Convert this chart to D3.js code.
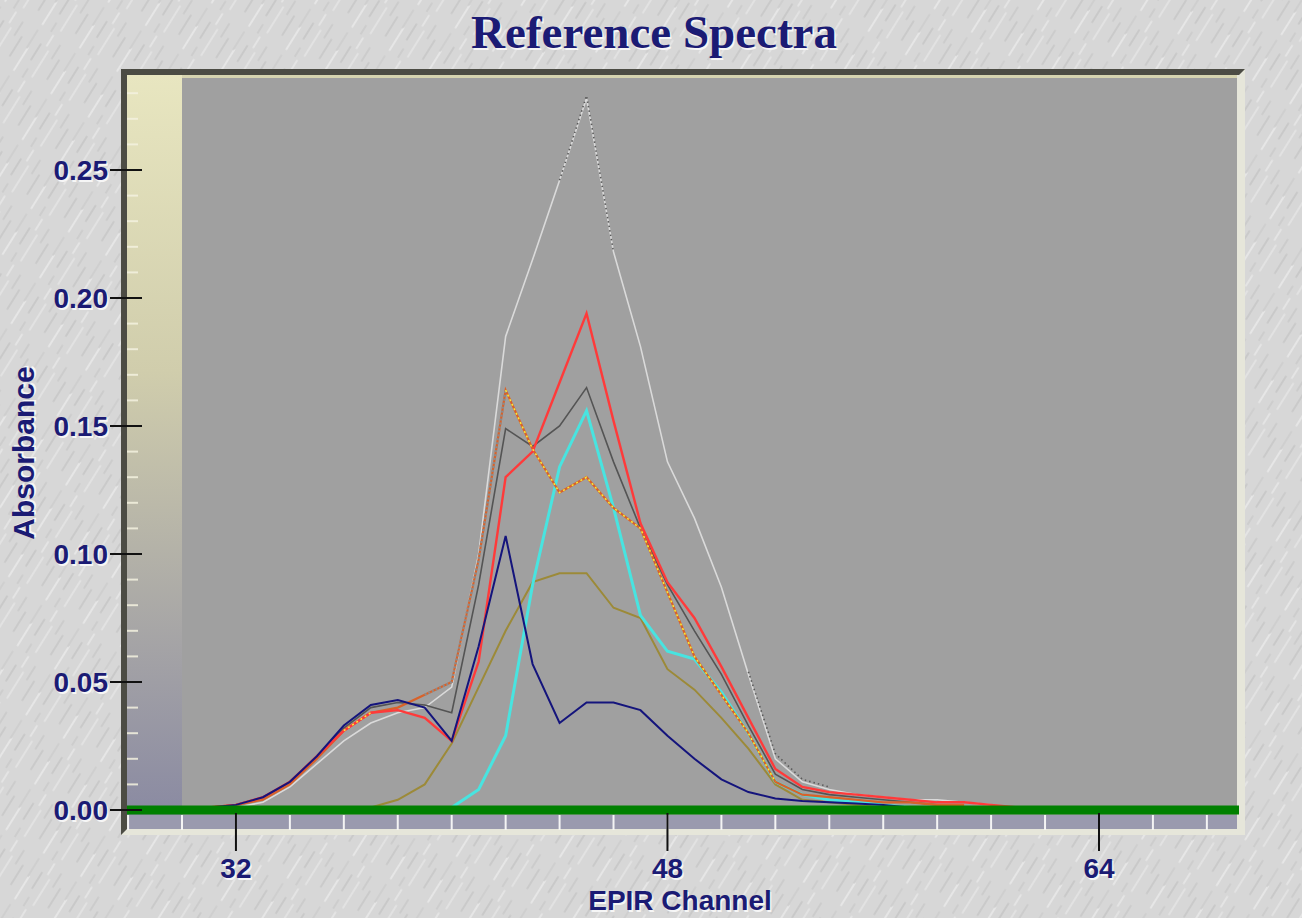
<!DOCTYPE html>
<html>
<head>
<meta charset="utf-8">
<script src="https://cdn.jsdelivr.net/npm/d3@7"></script>
<style>
  body { margin: 0; background: #d6d6d6; }
  svg { display: block; }
</style>
</head>
<body>
<svg id="chart" width="1302" height="918"></svg>
<script>
// channels on the x axis
const channels = [30, 31, 32, 33, 34, 35, 36, 37, 38, 39, 40, 41, 42, 43, 44, 45,
                  46, 47, 48, 49, 50, 51, 52, 53, 54, 55, 56, 57, 58, 59, 60, 61];

// absorbance per channel (null = not drawn)
const silver   = [0, 0, 0.001, 0.003, 0.009, 0.018, 0.027, 0.034, 0.038, 0.040, 0.048, 0.100, 0.185, 0.215, 0.246, 0.278,
                  0.218, 0.181, 0.136, 0.114, 0.087, 0.053, 0.020, 0.011, 0.008, 0.006, 0.005, 0.004, 0.004, 0.003, 0.002, null];
const red      = [null, 0.001, 0.002, 0.005, 0.011, 0.021, 0.031, 0.038, 0.039, 0.036, 0.027, 0.058, 0.130, 0.140, 0.167, 0.194,
                  0.152, 0.112, 0.089, 0.075, 0.056, 0.036, 0.016, 0.009, 0.007, 0.006, 0.005, 0.004, 0.003, 0.003, 0.002, 0.001];
const navy     = [null, 0.001, 0.002, 0.005, 0.011, 0.021, 0.033, 0.041, 0.043, 0.040, 0.027, 0.064, 0.107, 0.057, 0.034, 0.042,
                  0.042, 0.039, 0.029, 0.020, 0.012, 0.007, 0.0045, 0.0035, 0.003, 0.0025, 0.002, 0.001, null, null, null, null];
const darkGray = [null, 0.001, 0.002, 0.005, 0.011, 0.021, 0.032, 0.040, 0.042, 0.041, 0.038, 0.088, 0.149, 0.142, 0.150, 0.165,
                  0.136, 0.110, 0.088, 0.070, 0.053, 0.033, 0.014, 0.008, 0.006, 0.005, 0.004, 0.003, 0.002, null, null, null];
const cyan     = [null, null, null, null, null, null, null, null, null, null, 0.001, 0.008, 0.029, 0.088, 0.134, 0.156,
                  0.118, 0.076, 0.062, 0.059, 0.046, 0.030, 0.011, 0.006, 0.004, 0.003, 0.002, 0.001, null, null, null, null];
const olive    = [null, null, null, null, null, null, null, 0.001, 0.004, 0.010, 0.026, 0.048, 0.070, 0.089, 0.0925, 0.0925,
                  0.079, 0.075, 0.055, 0.047, 0.036, 0.024, 0.010, 0.004, 0.003, 0.002, 0.001, null, null, null, null, null];
const orange   = [null, 0.001, 0.002, 0.004, 0.010, 0.020, 0.031, 0.038, 0.040, 0.045, 0.050, 0.098, 0.164, 0.141, 0.124, 0.130,
                  0.118, 0.110, 0.085, 0.060, 0.045, 0.030, 0.011, 0.006, 0.005, 0.004, 0.003, 0.003, 0.002, 0.002, null, null];
// dotted overlays seen on parts of the spectra
const grayDots = [null, null, null, null, null, null, null, null, null, null, null, null, null, null, 0.246, 0.279,
                  0.218, null, null, null, null, 0.054, 0.022, 0.012, 0.009, null, null, null, null, null, null, null];
const yellowDots = [null, null, null, null, null, null, 0.031, 0.038, null, null, null, null, 0.164, 0.141, 0.124, 0.130,
                  0.118, 0.110, 0.085, 0.060, 0.045, 0.030, 0.011, null, null, null, null, null, null, null, null, null];
const mauveDots = [null, null, null, null, null, null, null, null, null, 0.045, 0.050, 0.098, 0.164, null, null, null,
                  null, null, null, null, null, null, null, null, null, null, null, null, null, null, null, null];

const yTicks = [0, 0.05, 0.10, 0.15, 0.20, 0.25];
const xTicks = [32, 48, 64];

const svg = d3.select("#chart");
const W = 1302, H = 918;
const navyText = "#1b1b74";

// frame geometry
const frameL = 121, frameT = 69, frameR = 1245, frameB = 835;
const plotL = 182, plotT = 78, plotR = 1237, plotB = 815;

const x = d3.scaleLinear().domain([30, 69]).range([plotL, plotL + 39 * 26.97]);
const y = d3.scaleLinear().domain([0, 0.25]).range([810, 170]);

// background texture
const defs = svg.append("defs");
const pat = defs.append("pattern")
    .attr("id", "stucco")
    .attr("width", 54).attr("height", 44)
    .attr("patternUnits", "userSpaceOnUse")
    .attr("patternTransform", "rotate(-58)");
pat.append("rect").attr("width", 54).attr("height", 44).attr("fill", "#d7d7d7");
[[2, 5, 26, "#e6e6e6"], [20, 14, 18, "#c9c9c9"], [6, 24, 30, "#e2e2e2"], [32, 31, 15, "#cccccc"],
 [28, 4, 20, "#cfcfcf"], [12, 38, 22, "#cacaca"], [40, 20, 12, "#e4e4e4"], [0, 16, 10, "#cdcdcd"]]
  .forEach(([sx, sy, len, c]) => {
    pat.append("line").attr("x1", sx).attr("y1", sy).attr("x2", sx + len).attr("y2", sy)
       .attr("stroke", c).attr("stroke-width", 1.8).attr("stroke-linecap", "round");
  });
svg.append("rect").attr("width", W).attr("height", H).attr("fill", "url(#stucco)");

const bandGrad = defs.append("linearGradient").attr("id", "band")
    .attr("x1", 0).attr("y1", 0).attr("x2", 0).attr("y2", 1);
bandGrad.append("stop").attr("offset", "0%").attr("stop-color", "#e8e6c0");
bandGrad.append("stop").attr("offset", "40%").attr("stop-color", "#d0cdac");
bandGrad.append("stop").attr("offset", "100%").attr("stop-color", "#8a8aa2");

// bevelled frame
svg.append("rect").attr("x", frameL).attr("y", frameT)
   .attr("width", frameR - frameL).attr("height", frameB - frameT).attr("fill", "#e6e6da");
svg.append("polygon")
   .attr("points", [[frameL, frameT], [frameR, frameT], [frameR - 6, frameT + 6], [frameL + 6, frameT + 6],
                    [frameL + 6, frameB - 6], [frameL, frameB]].join(" "))
   .attr("fill", "#4c4c44");
// inner areas
svg.append("rect").attr("x", frameL + 6).attr("y", frameT + 6)
   .attr("width", plotR - frameL - 6).attr("height", frameB - frameT - 12).attr("fill", "#9a9aae");
svg.append("rect").attr("x", frameL + 6).attr("y", frameT + 6)
   .attr("width", plotL - frameL - 6).attr("height", plotB - frameT - 6).attr("fill", "url(#band)");
svg.append("rect").attr("x", plotL).attr("y", frameT + 6)
   .attr("width", plotR - plotL).attr("height", 3).attr("fill", "#d6d4b0");
svg.append("rect").attr("x", plotL).attr("y", plotT)
   .attr("width", plotR - plotL).attr("height", plotB - plotT).attr("fill", "#a0a0a0");

// minor ticks
const yMinor = d3.range(1, 29).map(i => i / 100);
svg.append("g").selectAll("line").data(yMinor).join("line")
   .attr("x1", frameL + 6).attr("x2", frameL + 17)
   .attr("y1", d => y(d)).attr("y2", d => y(d))
   .attr("stroke", "#f4f2e0").attr("stroke-width", 2).attr("opacity", 0.85);
const xMinor = d3.range(28, 70, 2);
svg.append("g").selectAll("line").data(xMinor).join("line")
   .attr("x1", d => x(d)).attr("x2", d => x(d))
   .attr("y1", plotB).attr("y2", frameB - 5)
   .attr("stroke", "#f4f4f4").attr("stroke-width", 2);

// spectra
defs.append("clipPath").attr("id", "plotClip").append("rect")
   .attr("x", plotL).attr("y", plotT).attr("width", plotR - plotL).attr("height", plotB - plotT);
const gLines = svg.append("g").attr("clip-path", "url(#plotClip)");
const line = d3.line()
    .defined(d => d[1] != null)
    .x(d => x(d[0]))
    .y(d => y(d[1]));
const series = [
  { values: silver,     color: "#dadada", width: 1.6 },
  { values: olive,      color: "#9c8a38", width: 2 },
  { values: cyan,       color: "#48e4e0", width: 3 },
  { values: darkGray,   color: "#545454", width: 1.6 },
  { values: orange,     color: "#d8622a", width: 2.2 },
  { values: mauveDots,  color: "#8e8a8a", width: 2.4, dash: "2,2" },
  { values: red,        color: "#ff3a3a", width: 2.4 },
  { values: navy,       color: "#14147c", width: 2 },
  { values: grayDots,   color: "#5a5a5a", width: 1.6, dash: "1.5,3" },
  { values: yellowDots, color: "#f6ea3a", width: 1.6, dash: "2,3" }
];
gLines.selectAll("path").data(series).join("path")
   .attr("d", s => line(channels.map((c, i) => [c, s.values[i]])))
   .attr("fill", "none")
   .attr("stroke", s => s.color)
   .attr("stroke-width", s => s.width)
   .attr("stroke-dasharray", s => s.dash || null)
   .attr("stroke-linejoin", "miter");

// zero line
svg.append("line").attr("x1", frameL + 6).attr("x2", plotR + 2)
   .attr("y1", y(0)).attr("y2", y(0))
   .attr("stroke", "#008000").attr("stroke-width", 9);

// major ticks and labels
svg.append("g").selectAll("line").data(yTicks).join("line")
   .attr("x1", 110).attr("x2", 142)
   .attr("y1", d => y(d)).attr("y2", d => y(d))
   .attr("stroke", "#111").attr("stroke-width", 2);
svg.append("g").selectAll("line").data(xTicks).join("line")
   .attr("x1", d => x(d)).attr("x2", d => x(d))
   .attr("y1", 813).attr("y2", 851)
   .attr("stroke", "#111").attr("stroke-width", 2);

function shadowText(g, txt) {
  // light halo under the navy text
  g.append("text").text(txt).attr("fill", "#f6f6f6").attr("transform", "translate(1.5,1.5)");
  g.append("text").text(txt).attr("fill", navyText);
}
const fontSans = "'Liberation Sans', Arial, sans-serif";
const yLab = svg.append("g").attr("font-family", fontSans).attr("font-weight", "bold")
   .attr("font-size", 28).attr("text-anchor", "end");
yTicks.forEach(t => {
  const g = yLab.append("g").attr("transform", `translate(108,${y(t) + 10})`);
  shadowText(g, d3.format(".2f")(t));
});
const xLab = svg.append("g").attr("font-family", fontSans).attr("font-weight", "bold")
   .attr("font-size", 28).attr("text-anchor", "middle");
xTicks.forEach(t => {
  const g = xLab.append("g").attr("transform", `translate(${x(t)},${878})`);
  shadowText(g, String(t));
});

// axis titles
const xt = svg.append("g").attr("font-family", fontSans).attr("font-weight", "bold")
   .attr("font-size", 28).attr("text-anchor", "middle")
   .attr("transform", "translate(680,910)");
shadowText(xt, "EPIR Channel");
const yt = svg.append("g").attr("font-family", fontSans).attr("font-weight", "bold")
   .attr("font-size", 30).attr("text-anchor", "middle")
   .attr("transform", "translate(34,453) rotate(-90)");
shadowText(yt, "Absorbance");

// title
const tt = svg.append("g").attr("font-family", "'Liberation Serif', 'Times New Roman', serif")
   .attr("font-weight", "bold").attr("font-size", 47).attr("text-anchor", "middle")
   .attr("transform", "translate(654,48)");
shadowText(tt, "Reference Spectra");
</script>
</body>
</html>
